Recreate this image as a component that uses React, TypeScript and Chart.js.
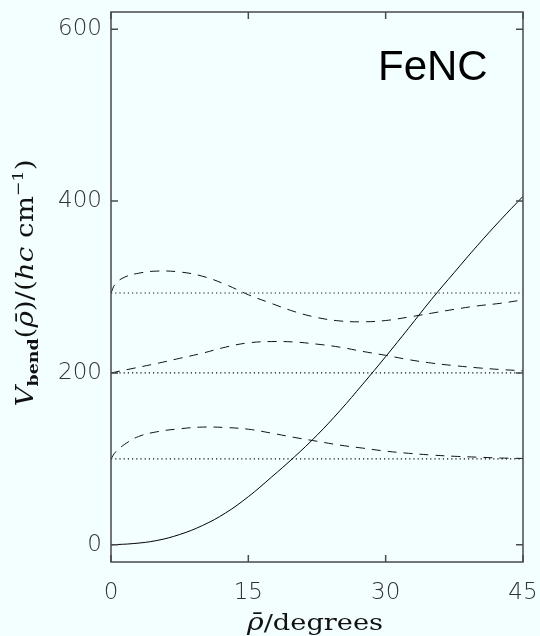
import { useEffect, useRef } from 'react';
import { Chart, registerables } from 'chart.js';

Chart.register(...registerables);

// ---- data ----
const xTickValues = [0, 15, 30, 45];
const yTickValues = [0, 200, 400, 600];

const rhoCoarse = [0, 2.5, 5, 7.5, 10, 12.5, 15, 17.5, 20, 22.5, 25, 27.5, 30, 32.5, 35, 37.5, 40, 42.5, 45];
const rhoFine = [0, 0.5, 1.5, 3, 5, 7.5, 10, 12.5, 15, 17.5, 20, 22.5, 25, 27.5, 30, 32.5, 35, 37.5, 40, 42.5, 45];

// solid potential curve V_bend (rhoCoarse)
const vBend = [0, 1.5, 5, 12, 22.5, 37, 56, 78.5, 102, 127.5, 156, 187, 219, 252, 285.5, 317, 348, 377.5, 405.5];

// dashed curves
const wave0 = [100, 108, 117, 126, 131.5, 135, 137, 136.5, 134.5, 130, 125, 120.5, 116, 112.5, 109, 106.5, 104.5, 103, 102, 101, 100.5]; // rhoFine
const wave1 = [200, 205.5, 211, 217, 223, 230, 235, 236.5, 236, 233.5, 230, 225, 220.5, 215.5, 211.5, 208.5, 206, 204, 202.5]; // rhoCoarse
const wave2 = [293, 304, 311.5, 316, 318.5, 317.5, 312.5, 303, 291, 281, 271.5, 264.5, 260.5, 259.5, 261, 265, 269.5, 274, 278, 281, 285]; // rhoFine

// dotted energy levels
const levelEnergies = [100, 200, 293];
const levelRange = [0, 45];

const moleculeLabel = 'FeNC';

const BG = '#F3FFFF';

function pts(xs: number[], ys: number[]) {
  return xs.map((x, i) => ({ x, y: ys[i] }));
}

type Seg = { t: string; font: string; dy?: number };

function drawRich(ctx: CanvasRenderingContext2D, segs: Seg[], x: number, y: number, targetW: number, rotate: boolean) {
  ctx.save();
  ctx.translate(x, y);
  if (rotate) ctx.rotate(-Math.PI / 2);
  ctx.textBaseline = 'alphabetic';
  ctx.textAlign = 'left';
  const widths: number[] = [];
  let total = 0;
  for (const s of segs) {
    ctx.font = s.font;
    const w = ctx.measureText(s.t).width;
    widths.push(w);
    total += w;
  }
  const k = targetW / total;
  ctx.scale(k, 1);
  let cx = -total / 2;
  segs.forEach((s, i) => {
    ctx.font = s.font;
    ctx.fillText(s.t, cx, s.dy || 0);
    cx += widths[i];
  });
  ctx.restore();
}

const decorPlugin = {
  id: 'decor',
  beforeDraw(chart: any) {
    const ctx = chart.ctx as CanvasRenderingContext2D;
    ctx.save();
    ctx.fillStyle = BG;
    ctx.fillRect(0, 0, chart.width, chart.height);
    ctx.restore();
  },
  afterDraw(chart: any) {
    const ctx = chart.ctx as CanvasRenderingContext2D;
    const { left, right, top, bottom } = chart.chartArea;
    const xs = chart.scales.x;
    const ys = chart.scales.y;
    ctx.save();
    // frame
    ctx.strokeStyle = '#4a4a4a';
    ctx.lineWidth = 1.5;
    ctx.strokeRect(left, top, right - left, bottom - top);
    // inward ticks
    const tl = 7;
    ctx.beginPath();
    for (const v of xTickValues) {
      const px = xs.getPixelForValue(v);
      ctx.moveTo(px, bottom);
      ctx.lineTo(px, bottom - tl);
      ctx.moveTo(px, top);
      ctx.lineTo(px, top + tl);
    }
    for (const v of yTickValues) {
      const py = ys.getPixelForValue(v);
      ctx.moveTo(left, py);
      ctx.lineTo(left + tl, py);
      ctx.moveTo(right, py);
      ctx.lineTo(right - tl, py);
    }
    ctx.stroke();

    // molecule label
    ctx.fillStyle = '#000';
    ctx.font = '42px "Liberation Sans", Arial, sans-serif';
    ctx.textAlign = 'left';
    ctx.textBaseline = 'alphabetic';
    ctx.fillText(moleculeLabel, 378, 80);

    // axis titles
    ctx.fillStyle = '#111';
    const serif = '"DejaVu Serif", "Liberation Serif", serif';
    drawRich(
      ctx,
      [
        { t: 'ρ\u0304', font: `italic 24px ${serif}` },
        { t: '/degrees', font: `23px ${serif}` },
      ],
      315,
      630,
      136,
      false
    );
    drawRich(
      ctx,
      [
        { t: 'V', font: `italic 24px ${serif}` },
        { t: 'bend', font: `bold 15px ${serif}`, dy: 5 },
        { t: '(', font: `24px ${serif}` },
        { t: 'ρ\u0304', font: `italic 24px ${serif}` },
        { t: ')/(', font: `24px ${serif}` },
        { t: 'hc', font: `italic 24px ${serif}` },
        { t: ' cm', font: `24px ${serif}` },
        { t: '−1', font: `15px ${serif}`, dy: -10 },
        { t: ')', font: `24px ${serif}` },
      ],
      33,
      283,
      247,
      true
    );
    ctx.restore();
  },
};

export default function App() {
  const ref = useRef<HTMLCanvasElement | null>(null);

  useEffect(() => {
    if (!ref.current) return;
    const dashed = { borderColor: '#111', borderWidth: 1, borderDash: [9, 7], pointRadius: 0, tension: 0.4, fill: false };
    const dotted = { borderColor: '#111', borderWidth: 1.2, borderDash: [1.2, 3], pointRadius: 0, tension: 0, fill: false };
    const datasets: any[] = [
      { label: 'V_bend', data: pts(rhoCoarse, vBend), borderColor: '#000', borderWidth: 1, pointRadius: 0, tension: 0.4, fill: false },
      { label: 'v0', data: pts(rhoFine, wave0), ...dashed },
      { label: 'v1', data: pts(rhoCoarse, wave1), ...dashed },
      { label: 'v2', data: pts(rhoFine, wave2), ...dashed },
      ...levelEnergies.map((e, i) => ({ label: 'E' + i, data: levelRange.map((x) => ({ x, y: e })), ...dotted })),
    ];
    const tickFont = { family: '"DejaVu Sans", sans-serif', size: 23, weight: '300' as any };
    const chart = new Chart(ref.current, {
      type: 'line',
      data: { datasets },
      plugins: [decorPlugin],
      options: {
        animation: false,
        responsive: false,
        devicePixelRatio: 1,
        layout: { padding: { left: 0, top: 12, right: 17, bottom: 0 } },
        plugins: { legend: { display: false }, tooltip: { enabled: false }, title: { display: false } },
        scales: {
          x: {
            type: 'linear',
            min: 0,
            max: 45,
            afterBuildTicks: (s: any) => {
              s.ticks = xTickValues.map((v) => ({ value: v }));
            },
            afterFit: (s: any) => {
              s.height = 74;
              s.paddingLeft = 0;
              s.paddingRight = 0;
            },
            grid: { display: false, drawTicks: false },
            border: { display: false },
            ticks: { color: '#333', font: tickFont, padding: 17, maxRotation: 0, autoSkip: false },
          },
          y: {
            type: 'linear',
            min: -20,
            max: 620,
            afterBuildTicks: (s: any) => {
              s.ticks = yTickValues.map((v) => ({ value: v }));
            },
            afterFit: (s: any) => {
              s.width = 111;
              s.paddingTop = 0;
              s.paddingBottom = 0;
            },
            grid: { display: false, drawTicks: false },
            border: { display: false },
            ticks: { color: '#333', font: tickFont, padding: 9, autoSkip: false },
          },
        },
      } as any,
    });
    return () => chart.destroy();
  }, []);

  return (
    <div style={{ position: 'fixed', left: 0, top: 0, width: 540, height: 636, background: BG }}>
      <canvas ref={ref} width={540} height={636} style={{ display: 'block', width: 540, height: 636 }} />
    </div>
  );
}
